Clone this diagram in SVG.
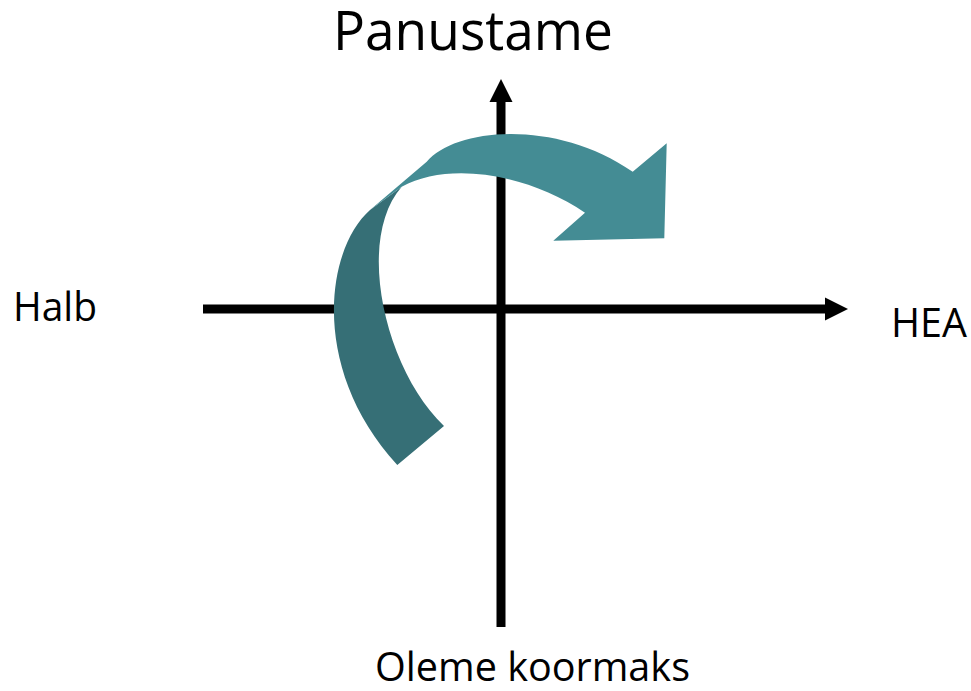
<svg xmlns="http://www.w3.org/2000/svg" width="971" height="691" viewBox="0 0 971 691">
  <style>
    .lbl { font-family: "Open Sans", "Liberation Sans", sans-serif; fill: #000; }
    .axis { stroke: #000; stroke-width: 9; fill: none; }
    .head { fill: #000; }
  </style>
  <rect x="0" y="0" width="971" height="691" fill="#fff"/>
  <g id="connectors">
    <line class="axis" x1="203" y1="309" x2="827" y2="309"/>
    <polygon class="head" points="825,297.5 848,309 825,320.5"/>
    <line class="axis" x1="501" y1="627" x2="501" y2="100"/>
    <polygon class="head" points="489.5,102 501,79 512.5,102"/>
  </g>
  <g id="curved-arrow">
    <path fill="#366F76" d="M397.3,465 L444,426 C385,370 355,240 401.7,186.7 L370,210 C325,250 310,370 397.3,465 Z"/>
    <path fill="#448C94" d="M370,210 L426.7,161.7 C455,128 555,118 632.7,171.7 L666.7,143.3 L664.3,238.3 L553.3,240.7 L585,212.7 C530,175 450,160 401.7,186.7 Z"/>
  </g>
  <g id="title">
    <text class="lbl" x="473" y="50" font-size="54" text-anchor="middle" textLength="280" lengthAdjust="spacingAndGlyphs">Panustame</text>
  </g>
  <g id="label-halb">
    <text class="lbl" x="13" y="321" font-size="40" textLength="84" lengthAdjust="spacingAndGlyphs">Halb</text>
  </g>
  <g id="label-hea">
    <text class="lbl" x="891" y="337" font-size="40" textLength="76" lengthAdjust="spacingAndGlyphs">HEA</text>
  </g>
  <g id="label-bottom">
    <text class="lbl" x="375" y="681" font-size="40" textLength="315" lengthAdjust="spacingAndGlyphs">Oleme koormaks</text>
  </g>
</svg>
